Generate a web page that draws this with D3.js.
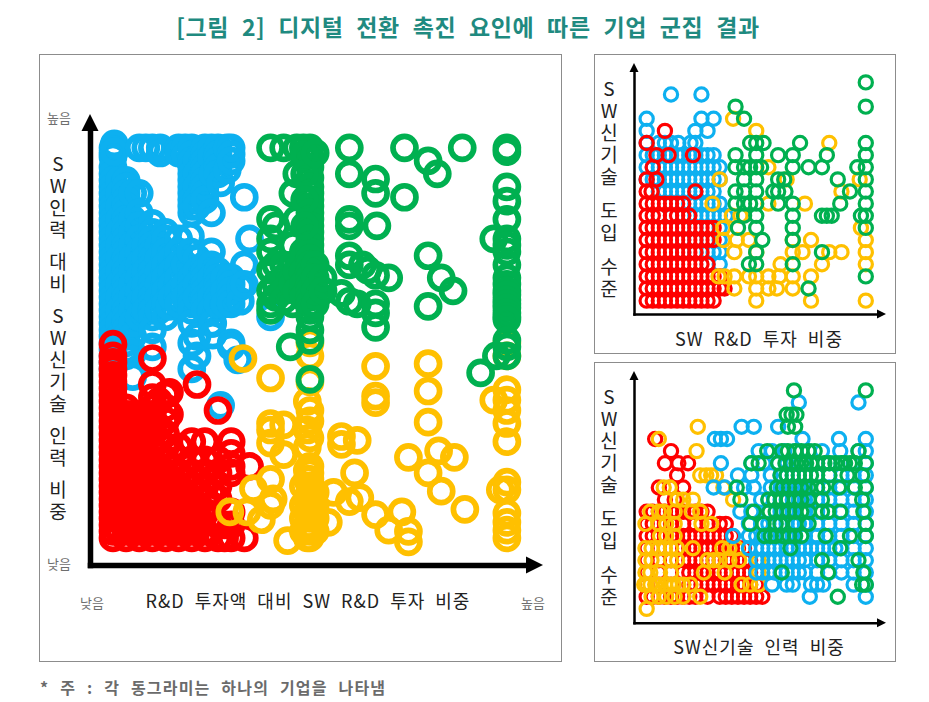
<!DOCTYPE html>
<html><head><meta charset="utf-8">
<script src="https://cdn.jsdelivr.net/npm/d3@7"></script>
<style>html,body{margin:0;padding:0;background:#fff}svg{display:block}text{font-family:"Noto Sans CJK KR","Noto Sans",sans-serif}</style>
</head><body><div id="c"></div>
<script>
// ---- Texts ----
const titleText = "[그림 2] 디지털 전환 촉진 요인에 따른 기업 군집 결과";
const noteText = "* 주 : 각 동그라미는 하나의 기업을 나타냄";
const mainXLabel = "R&D 투자액 대비 SW R&D 투자 비중";
const mainYLabel = "SW인력 대비 SW신기술 인력 비중";
const chart1XLabel = "SW R&D 투자 비중";
const chart2XLabel = "SW신기술 인력 비중";
const smallYLabel = "SW신기술 도입 수준";
const highLabel = "높음", lowLabel = "낮음";
const colors = {blue:"#0db0f0", red:"#ff0000", yellow:"#ffc000", green:"#00b050"};

// ---- Main chart: [x level, [y levels]] ----
const mainBlue = [
 [0,[30,29.6,29.3,28.5,28,27.5,27,26.5,26,25.5,25,24.5,24,23.5,23,22.5,22,21.5,21,20.5,20,19.5,19,18.5,18,17.5,17,16.5,16,15.5,15,14.5,14,13.5,13]],
 [0.1,[30.3,29.7]],[0.5,[27.5,26.5,25.5,24.5,23.5,22.5,21.5,20.5,19.5,18.5,17.5,16.5,15.5]],
 [1,[27.5,27,26.5,26,25.5,25,24.5,24,23.5,23,22.5,22,21.5,21,20.5,20,19.5,19,18.5,18,17.5,17,16.5,16,15.5,15,14.5,14]],
 [1.5,[26.5,24.5,23.5,22.5,21.5,20.5,19.5,18.5,17.5,16.5,15.5,14.2,12.4]],
 [2,[30,26.5,25,24,23,22,21,20,19,18,17]],[2.5,[30,22.5,21.5,20.5,19.5,18.5,17.5]],
 [3,[30,24.2,23.5,23,22.5,22,21.5,21,20.5,20,19.5,19,18.5,18,17.5,17,16,14.7]],
 [3.6,[30,29.6]],[3.5,[22.5,21.5,20.5,19.5,18.5,17.5]],[4,[23.5,23,22,21,20,19,18,17]],[4.3,[17.8]],
 [4.5,[21.5,20.5,19.5,18.5]],[5,[30,29.6,23,22,21,20,19,18]],[5.5,[30,29.4,21,19.5,18.5]],
 [6,[30,29.5,29,28.5,28,27.5,27,26.5,26,25.5,25,20.5,20,19.5,19,18.5,18,17.5,16.5,15,13]],
 [5.9,[23.2,22]],[6.4,[29,28,27,26,25.5,21.5,20.5,19.5,18.5,15.5,14]],
 [7,[30,29.5,29,28.5,28,27.5,27,26.5,26,21,20.5,20,19.5,19,18.5,18,17.5]],
 [7.5,[30,29.3,25,22,21,20,19,18.5,17.5,16.5]],[7.6,[28,16.5,15.6]],
 [8,[30,29.5,29,28.5,28,20.5,20,19.5,19,18.5,18]],[8.2,[27.3,10.2]],[8.5,[20,19,18]],[8.7,[28.3,30]],
 [9,[30,29.5,29,20,19.5,19,18.5,18,15,14.7]],
 [9.5,[13.7]],[9.7,[19.3,18.2]],[10,[26.2,21,19.5]],[10.4,[23]],[12,[17]]
];
const mainRed = [
 [0,[14.9,14,13.5,13,12.5,12,11.5,11,10.5,10,9.5,9,8.5,8,7.5,7,6.5,6,5.5,5,4.5,4,3.5,3,2.5,2,1.5,1,0.5,0]],
 [0.5,[9.5,8.5,7.5,6.5,5.5,4.5,3.5,2.5,1.5,0.5]],
 [1,[10,9.5,9,8.5,8,7.5,7,6.5,6,5.5,5,4.5,4,3.5,3,2.5,2,1.5,1,0.5,0]],
 [1.5,[9.5,8.5,7.5,6.5,5.5,4.5,3.5,2.5,1.5,0.5]],
 [2,[9.5,9,8.5,8,7.5,7,6.5,6,5.5,5,4.5,4,3.5,3,2.5,2,1.5,1,0.5,0]],[2.5,[9.5,8.5,7.5,5.5,4.5,3.5,2.5,1.5,0.5]],
 [3,[13.8,11.8,10.8,10,9.5,9,8.5,8,7,6,5.5,5,4.5,4,3.5,3,2.5,2,1.5,1,0.5,0]],[3.5,[10.5,8.5,7.5,5.5,4.5,3.5,2.5,1.5,0.5]],
 [4,[11,10,9,8,7,6,5,4.5,4,3.5,3,2.5,2,1.5,1,0.5,0]],[4.3,[11.2,9.5]],[4.5,[6.5,5.5,4.5,3.5,2.5,1.5,0.5]],
 [5,[7,6,5,4,3.5,3,2.5,2,1.5,1,0.5,0]],[5.5,[4.5,3.5,2.5,1.5,0.5]],
 [6,[7.4,6,5,4,3,2.5,2,1,0.5,0]],[6.4,[11.8]],[6.5,[3.5,1.5]],[7,[7.4,6,5,4,3,2,0.5,0]],[7.5,[3.5,2.5]],[8,[9.8,6,5,4,3,1,0]],
 [8.5,[1,0]],[9,[7.4,6.5,5.5,5,2,1,0]],[10,[0]],[10.4,[5.5]]
];
const mainYellow = [
 [8.9,[2]],[9.9,[13.8]],[10.2,[2]],[10.7,[3.8]],[11.3,[1.4]],[12,[12.3,8.8,8.3,7.3,4.5,2.5]],
 [12.2,[3]],[13,[8.7,6.4]],[13.3,[-0.2]],[14.8,[10.5,8.3,7,5.2,4.5,3,2,1,0]],
 [15,[15,14,12,9.8,9,7.7,5.5,5,4.5,4,3.5,3,2.5,2,1.5,1,0.5,0]],[14.5,[4,2.5,1.5,0.5]],[15.4,[3.5,2.5,1.5,0.5]],
 [16.4,[1.2]],[16.8,[3.5]],[17.4,[7.8,7.2]],
 [18,[2.8]],[18.4,[5]],[18.6,[7.5]],[18.8,[3.1]],[20,[13.2,10.9,10.4,1.8]],[21,[0.6]],
 [22,[2]],[22.5,[6.2,0.5,-0.3]],[24,[13.4,11.3,8.9,5]],[24.8,[6.7]],[25,[3.6]],[26,[6.2]],
 [26.8,[2.2]],[29,[10.6]],[29.5,[3.7]],[30,[15,14,11.4,10.6,9.8,8.8,7.4,4.3,3.7,1.9,1.2,0.6,0]]
];
const mainGreen = [
 [12,[30,24.5,23,22,20.6,19,18,17.5]],[12.4,[24,21,19.5,18.5]],[13,[30,21,20,19,18.3]],[13.5,[14.7]],
 [13.7,[26.5,22.5,21,20,19.5,18]],[14,[30,28,24.5,20.5,19]],[14.5,[30,22,21.5,20.5,19.5,18.5]],
 [15,[30,29.4,29,28.5,27.7,27,26.5,26,25.5,25,24.5,24,23.5,23,22.5,22,21.5,21,20.5,20,19.5,19,18.5,18,17.5,17,16,15.2,12.2]],
 [14.6,[29.5,28,26,24]],[15.4,[29.6,21,20,19,18]],
 [16,[20,19]],[17.4,[18.8]],[18,[30,28,24.5,24,21.7,21,18.2]],[18.6,[18]],[19,[21]],
 [19.4,[20.6]],[20,[27.6,26.5,20.2,18,17.3,16.2]],[20.1,[24]],[21,[20]],[22.2,[30,26.2]],
 [24,[29,21.7,17.8]],[24.7,[28]],[25,[20]],[25.9,[19]],[26.6,[30]],[28,[12.7]],[29,[23]],
 [29.2,[14]],[30,[30,29.7,27,25.9,24.5,23,22.5,22,21,20,19.5,19,18.7,18.3,18,17.7,17.3,17,16.8,15.2,14.7,14]]
];

// ---- Top-right chart: [y level, [x levels]] ----
const c1Blue = [
 [17,[2,4.5]],[15,[0,4.5,5.5]],[14,[0,4,5]],[13,[0,1,1.5,2,2.6,3.6,4]],[12,[0,0.5,1,1.5,2,2.5,3,3.5,4,4.5,5,5.5]],
 [11,[0,0.5,1,1.5,2,2.5,3,3.5,4,4.5,5,5.5,6]],[10,[0,0.5,1,1.5,2,2.5,3,3.5,4,4.5,5,5.5,6]],
 [9,[1,1.5,2,2.5,3,3.5,4,4.5,5,5.5]],[8,[2,3,3.5,4,4.5,5,5.5,6]],
 [7,[1,2,3,3.5,4,4.5,5,5.5,6,6.5]],[6,[3,4,5,6]],[5,[3,4,5,6]],[4,[3,4,5,5.5,6]],[3,[5,6]]
];
const c1Red = [
 [14,[1.5]],[13,[0]],[12,[0.8,1.8,3.8]],[11,[0.5]],[10,[0,0.8]],[9,[0,0.4,4]],
 [8,[0,0.5,1,1.5,2,2.5,3]],[7,[0,0.5,1,2,2.5,3,3.5]],[6,[0,0.5,1,1.5,2,2.5,3,3.5,4,4.5,5,5.5]],
 [5,[0,0.5,1,1.5,2,2.5,3,3.5,4,4.5,5,5.5]],[4,[0,0.5,1,1.5,2,2.5,3,3.5,4,4.5]],
 [3,[0,0.5,1,1.5,2,2.5,3,3.5,4,4.5,5]],[2,[0,0.5,1,1.5,2,2.5,3,3.5,4,4.5,5,5.5,6]],
 [1,[0,0.5,1,1.5,2,2.5,3,3.5,4,4.5,5,5.5,6,6.4]],[0,[0,0.5,1,1.5,2,2.5,3,3.5,4,4.5,5,5.5]]
];
const c1Yellow = [
 [15,[7.1]],[14,[9]],[13,[15]],[11,[10]],[10,[6,11.5,17.5]],[9,[16]],[8,[5.4,10,13]],
 [7,[7,7.7]],[6,[6.3,17.6]],[5,[6.3,7.4,8.4,12,13.5,18]],[4,[7.2,9,12,12.8,15,16,18]],
 [3,[11,14.4,18]],[2,[5.9,6.4,7.2,8.4,9,10,10.9,12,13.5]],[1,[7.2,9,10,10.7,12]],[0,[9,13.5,18]]
];
const c1Green = [
 [18,[18]],[16,[7.3,18]],[15,[8]],[13,[8.5,9,9.6,12.6,18]],[12,[7.3,9,10.8,12,14.8,18]],
 [11,[7.3,8,8.5,9,9.4,12,13.3,14.4,17.3,18]],[10,[8,9,10.8,11.3,15.7,18]],
 [9,[7.3,8,9,10.4,10.8,11.4,16.7,18]],[8,[7.3,8,8.5,9,10.8,12,15.9,18]],
 [7,[8,9,12,14.4,14.8,15.2,17.6,18]],[6,[7.5,9,12,18]],[5,[9.5,12]],[4,[9,14.4]],
 [3,[8.4,9,12]],[2,[18]],[1,[13.3]]
];

// ---- Bottom-right chart: [y level, [x levels]] ----
const c2Red = [
 [13,[0.7]],[12,[2]],[11,[1.5,2.6,3.4]],[10,[2.5]],[9,[1,2,3]],[8,[1.5,2.3]],
 [7,[0,0.5,1,1.5,2,2.5,3,3.5,4,4.5,5]],[6,[0,0.5,1,1.5,2,3,4,5,6,6.5]],
 [5,[0,0.5,1,1.5,2,2.5,3,3.5,4,4.5,5,5.5,6,6.5,7]],[4,[0,1,2,3,3.5,4,4.5,5,5.5,6,6.5,7,7.5,8]],
 [3,[0,1,2,3,3.5,4,4.5,5,5.5,6,6.5,7,7.5,8,8.5]],[2,[0,1,2,3,3.5,4,4.5,5,5.5,6,6.5,7,7.5,8,8.5,9]],
 [1,[0,1,2,3,3.5,4,4.5,5,5.5,6,6.5,7,7.5,8,8.5,9]],[0,[0,0.5,1,1.5,2,2.5,3,3.5,4,5,6,6.5,7,7.5,8,8.5,9,9.5]]
];
const c2Yellow = [
 [14,[4.2]],[13,[1]],[12,[4.1]],[10,[4.4,4.9,5.3,5.7]],[9,[1.4,1.9,6.3]],[8,[2.5,3,3.8,7.1]],
 [7,[0.3,1,1.4,2.3,3.7,4.4]],[6,[-0.1,1,1.6,2.3,4.5,5.3]],[5,[1.1,1.6,2.3]],
 [4,[-0.1,0.4,1,1.5,2,2.5,3.8,6.2,6.8,7.4]],[3,[-0.1,0.4,2,2.5,5,5.5,6,6.8,7.6,9.2]],
 [2,[-0.1,0.3,1.1,2,4.7,6.4,9.2]],[1,[-0.2,0,0.3,0.7,1,1.5,1.9,2.2,2.6,3,3.6,7.8,8.5,9.2]],
 [0,[0.4,1,1.6,2.3,3,4.4]],[-1,[0]]
];
const c2Blue = [
 [16,[12.5,17.4]],[14,[7.8,8.8,10.8]],[13,[5.6,6.1,6.6,12.8,15.8,18]],
 [12,[9.2,10.3,11.3,12.2,13.3,14.4,15.9,17.4,18]],[11,[6.1,8.6,9.6,10.8,11.5,12,13,14,15,16,17,18]],
 [10,[7.5,8.6,10.2,11,11.5,12,12.5,13,14,15,16,17,18]],[9,[5.5,6.4,8,8.8,10.2,11,11.5,12,12.5,13,14,15,16,17,18]],
 [8,[9.4,10,11,11.5,12,12.5,13,14,15,16,17,18]],[7,[7.7,8.6,10,11,11.5,12,13,14,15,16,17,18]],
 [6,[8.4,9.4,10,10.5,11,11.5,12,12.5,13,14,15,16,17,18]],[5,[7.1,8.4,9,9.5,10,10.5,11,11.5,12,13,14,15,16,17,18]],
 [4,[8.4,9,9.5,10,10.5,11,11.5,12,12.5,13,13.5,14,14.5,15,15.5,16,17,18]],
 [3,[9,9.5,10,10.5,11,11.5,12,12.5,13,14,15,16,17,18]],
 [2,[9,9.5,10,10.5,11,11.5,12,12.5,13,14,15,16,17,18]],[1,[10.3,11.5,12,13.5,14,14.5,17,18]],[0,[13.4,18]]
];
const c2Green = [
 [17,[12.1,18]],[15,[11.5,11.9,12.3]],[14,[11.6,12.2]],
 [12,[9.9,11.1,11.6,12.2,12.7,13.3,13.8,17.4]],[11,[8.6,9.2,10.8,11.4,11.9,12.3,12.7,13.1,13.5,14,14.6,15,15.5,16,16.3,16.7,17.1,18]],
 [10,[11,11.5,12,12.5,13,13.5,14,15,16.5,17.7]],[9,[7.4,10.7,11.2,11.7,12.2,12.7,13.3,14,14.5,15.8,17.1,18]],
 [8,[7.7,10,10.5,11.1,11.6,12.2,12.7,13.3,14.4,17.7]],[7,[8.8,10.1,10.6,11.2,11.7,12.2,12.7,13.3,14.4,14.9,15.9,17.8]],
 [6,[8.5,9.6,10.6,11,12.2,13.3,18]],[5,[9.7,10.2,10.6,11.2,11.7,12.2,12.7,14.7,16.7,18]],[4,[11.8,15.9]],
 [3,[14.4,17.4]],[2,[11.1,14.9,17.8]],[1,[17.7,18]],[0,[15.7]]
];

// ---- Helpers ----
const svg = d3.select("#c").append("svg").attr("width",929).attr("height",702);
const flatXFirst = a => a.flatMap(([x,ys]) => ys.map(y => ({x,y})));
const flatYFirst = a => a.flatMap(([y,xs]) => xs.map(x => ({x,y})));

svg.append("text").attr("x",468).attr("y",36).attr("text-anchor","middle")
  .attr("font-size",23).attr("font-weight",700).attr("fill","#1f8a80")
  .attr("word-spacing",7).attr("letter-spacing",0.6).text(titleText);
svg.append("text").attr("x",40).attr("y",694).attr("font-size",16).attr("font-weight",700)
  .attr("fill","#6b6b6b").attr("word-spacing",6).attr("letter-spacing",1.2).text(noteText);

function panel(cfg){
  const g = svg.append("g");
  g.append("rect").attr("x",cfg.box[0]+.5).attr("y",cfg.box[1]+.5)
    .attr("width",cfg.box[2]-cfg.box[0]).attr("height",cfg.box[3]-cfg.box[1])
    .attr("fill","#fff").attr("stroke","#8c8c8c").attr("stroke-width",1);
  const x = d3.scaleLinear().domain(cfg.xd).range(cfg.xr);
  const y = d3.scaleLinear().domain(cfg.yd).range(cfg.yr);
  cfg.series.forEach(s => {
    g.append("g").selectAll("circle").data(s.pts).join("circle")
      .attr("cx",d=>x(d.x)).attr("cy",d=>y(d.y)).attr("r",cfg.r)
      .attr("fill","none").attr("stroke",s.c).attr("stroke-width",cfg.sw);
  });
  // axes: the line stops inside the arrowhead
  const ox = cfg.xr[0], oy = cfg.yr[0], tx = cfg.xr[1], ty = cfg.yr[1], a = cfg.arrow, w = cfg.axisW;
  const ax = d3.axisBottom(x.copy().range([ox-w/2, tx-a*.8])).tickValues([]).tickSize(0);
  const ay = d3.axisLeft(y.copy().range([oy+w/2, ty+a*.8])).tickValues([]).tickSize(0);
  [g.append("g").attr("transform",`translate(0,${oy})`).call(ax),
   g.append("g").attr("transform",`translate(${ox},0)`).call(ay)].forEach(sel =>
     sel.select(".domain").attr("stroke","#000").attr("stroke-width",w));
  g.append("path").attr("fill","#000").attr("d",`M${tx},${oy}L${tx-a},${oy-a*.5}L${tx-a},${oy+a*.5}Z`);
  g.append("path").attr("fill","#000").attr("d",`M${ox},${ty}L${ox-a*.5},${ty+a}L${ox+a*.5},${ty+a}Z`);
  // stacked y label: one text element with a tspan per character
  const yl = g.append("text").attr("text-anchor","middle").attr("font-size",cfg.ylab.size).attr("fill","#222");
  let yy = cfg.ylab.start;
  for (const ch of cfg.ylab.text) {
    if (ch === " ") { yy += cfg.ylab.gap; continue; }
    yl.append("tspan").attr("x",cfg.ylab.x).attr("y",yy).text(ch);
    yy += cfg.ylab.step;
  }
  g.append("text").attr("x",cfg.xlab.x).attr("y",cfg.xlab.y).attr("text-anchor","middle")
    .attr("font-size",cfg.xlab.size).attr("fill","#222").attr("word-spacing",cfg.xlab.ws)
    .attr("letter-spacing",cfg.xlab.ls).text(cfg.xlab.text);
  return g;
}

const main = panel({box:[39,54,561,661],xd:[-1.75,32.75],xr:[90,543],yd:[-2.08,32.6],yr:[565,114],
  r:11.5,sw:5.7,axisW:5.5,arrow:17,
  series:[{pts:flatXFirst(mainBlue),c:colors.blue},{pts:flatXFirst(mainRed),c:colors.red},
          {pts:flatXFirst(mainYellow),c:colors.yellow},{pts:flatXFirst(mainGreen),c:colors.green}],
  ylab:{text:mainYLabel.replace("SW인력","SW인력"),x:58,start:171,step:22,gap:10,size:19},
  xlab:{text:mainXLabel,x:308,y:608,size:18,ws:5,ls:1}});
[[59,123,highLabel],[59,569,lowLabel],[92,608,lowLabel],[533,608,highLabel]].forEach(([px,py,t])=>
  main.append("text").attr("x",px).attr("y",py).attr("text-anchor","middle").attr("font-size",13)
    .attr("fill","#6e6e6e").text(t));

panel({box:[594,54,895,353],xd:[-1.04,19.66],xr:[634,886],yd:[-1.1,19.6],yr:[314,63],
  r:6.6,sw:3.2,axisW:2.5,arrow:9,
  series:[{pts:flatYFirst(c1Blue),c:colors.blue},{pts:flatYFirst(c1Red),c:colors.red},
          {pts:flatYFirst(c1Yellow),c:colors.yellow},{pts:flatYFirst(c1Green),c:colors.green}],
  ylab:{text:smallYLabel,x:609,start:96,step:22,gap:12,size:19},
  xlab:{text:chart1XLabel,x:759,y:346,size:18,ws:5,ls:1}});

panel({box:[594,362,895,661],xd:[-1.04,19.66],xr:[634,886],yd:[-2.14,18.6],yr:[622.7,371],
  r:6.6,sw:3.2,axisW:2.5,arrow:9,
  series:[{pts:flatYFirst(c2Red),c:colors.red},{pts:flatYFirst(c2Yellow),c:colors.yellow},
          {pts:flatYFirst(c2Blue),c:colors.blue},{pts:flatYFirst(c2Green),c:colors.green}],
  ylab:{text:smallYLabel,x:609,start:404,step:22,gap:12,size:19},
  xlab:{text:chart2XLabel,x:759,y:654,size:18,ws:5,ls:1}});
</script></body></html>
